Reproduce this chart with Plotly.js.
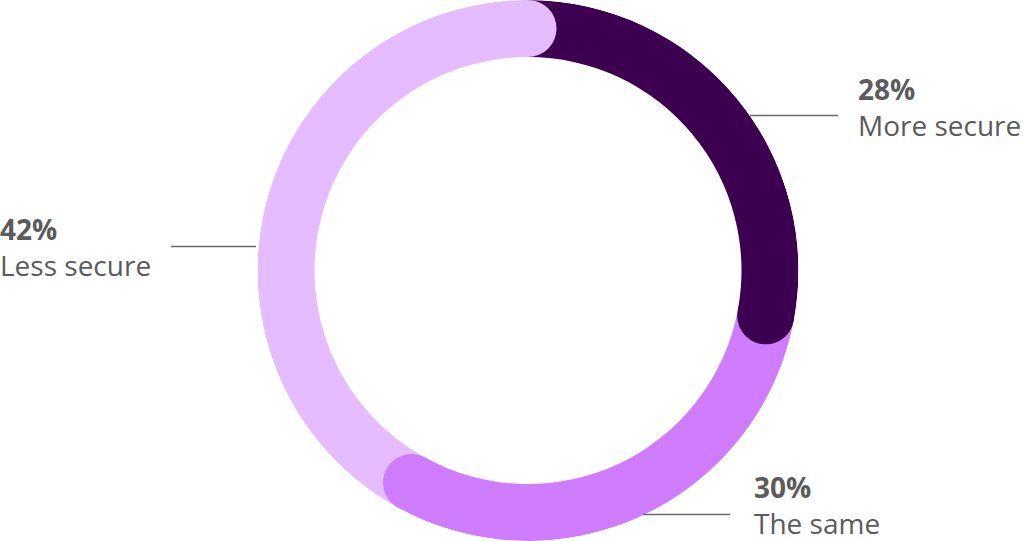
<!DOCTYPE html>
<html>
<head>
<meta charset="utf-8">
<script src="https://cdn.plot.ly/plotly-3.0.1.min.js"></script>
<style>html,body{margin:0;padding:0;background:#fff;}#chart{width:1024px;height:541px;}</style>
</head>
<body>
<div id="chart"></div>
<script>
// Data
const categories = ["More secure", "The same", "Less secure"];
const shares = [28, 30, 42];
const percentLabels = ["28%", "30%", "42%"];
const colors = ["#3d0050", "#d07cfe", "#e4bcff"];

// Ring geometry (radial axis units == pixels since range matches radius)
const R = 270.5;
const thickness = 57;
const inner = R - thickness;

let cum = 0;
const thetaCenters = [], widths = [], ends = [];
shares.forEach(v => {
  const deg = v * 3.6;
  thetaCenters.push(cum + deg / 2);
  widths.push(deg);
  cum += deg;
  ends.push(cum);
});

const traces = categories.map((c, i) => ({
  type: "barpolar",
  name: c,
  r: [thickness],
  base: [inner],
  theta: [thetaCenters[i]],
  width: [widths[i]],
  marker: {color: colors[i], line: {width: 0}},
  hoverinfo: "skip",
  showlegend: false
}));

// rounded end caps at the end of each segment
traces.push({
  type: "scatterpolar",
  mode: "markers",
  r: ends.map(() => inner + thickness / 2),
  theta: ends,
  marker: {size: thickness, color: colors, line: {width: 0}},
  hoverinfo: "skip",
  showlegend: false
});

const cx = 528;
const W = 1024, H = 541;
const px = x => x / W;
const py = y => 1 - y / H;

const font = {family: "Open Sans, sans-serif", size: 28, color: "#5b5b5b"};
const labelPos = [
  {x: 856, y: 107},
  {x: 752, y: 505},
  {x: -2, y: 247}
];
const annotations = categories.map((c, i) => ({
  xref: "paper", yref: "paper",
  x: px(labelPos[i].x), y: py(labelPos[i].y),
  xanchor: "left", yanchor: "middle", align: "left",
  showarrow: false,
  text: "<b>" + percentLabels[i] + "</b><br>" + c,
  font: font
}));

const lineDefs = [
  {x0: 750, x1: 838, y: 115.5},
  {x0: 643, x1: 730, y: 514.5},
  {x0: 171, x1: 256, y: 246.5}
];
const shapes = lineDefs.map(l => ({
  type: "line", xref: "paper", yref: "paper",
  x0: px(l.x0), x1: px(l.x1), y0: py(l.y), y1: py(l.y),
  line: {color: "#6a6a6a", width: 1.5}
}));

const layout = {
  width: W, height: H,
  margin: {l: 0, r: 0, t: 0, b: 0},
  paper_bgcolor: "#ffffff",
  showlegend: false,
  polar: {
    domain: {x: [px(cx - R), px(cx + R)], y: [0, 1]},
    bgcolor: "rgba(0,0,0,0)",
    bargap: 0,
    radialaxis: {range: [0, R], visible: false, showgrid: false},
    angularaxis: {rotation: 90, direction: "clockwise", visible: false, showgrid: false}
  },
  annotations: annotations,
  shapes: shapes
};

Plotly.newPlot("chart", traces, layout, {staticPlot: true, displayModeBar: false});
</script>
</body>
</html>
